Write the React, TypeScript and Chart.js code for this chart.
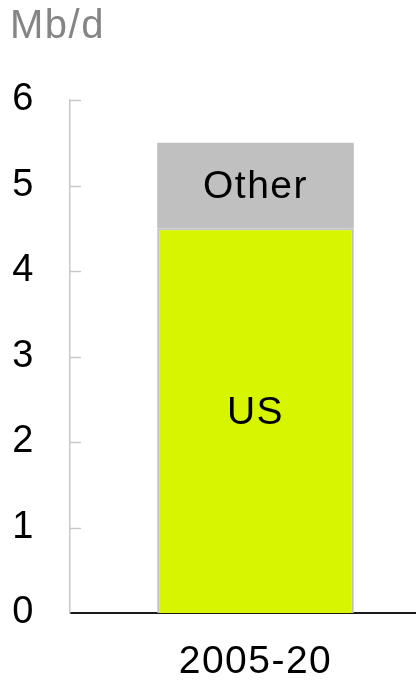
import React, { useEffect, useRef } from "react";
import { Chart, registerables } from "chart.js";

Chart.register(...registerables);

const categories = ["2005-20"];
const usValues = [4.5];
const otherValues = [1.0];
const seriesNames = ["US", "Other"];
const yTicks = [0, 1, 2, 3, 4, 5, 6];
const unitLabel = "Mb/d";

const FONT = "'Liberation Sans', Arial, Helvetica, sans-serif";

const spacing = {
  id: "spacing",
  beforeInit(chart: any) {
    try { chart.ctx.letterSpacing = "1.5px"; } catch (e) {}
  },
  beforeDraw(chart: any) {
    try { chart.ctx.letterSpacing = "1.5px"; } catch (e) {}
  },
};

const innerTicks = {
  id: "innerTicks",
  afterDraw(chart: any) {
    const y = chart.scales.y;
    const ctx = chart.ctx;
    ctx.save();
    ctx.strokeStyle = "#c8c8c8";
    ctx.lineWidth = 1.5;
    yTicks.forEach((v) => {
      if (v === 0) return;
      const py = Math.round(y.getPixelForValue(v)) + 0.5;
      ctx.beginPath();
      ctx.moveTo(y.right, py);
      ctx.lineTo(y.right + 11, py);
      ctx.stroke();
    });
    ctx.restore();
  },
};

const barLabels = {
  id: "barLabels",
  afterDatasetsDraw(chart: any) {
    const ctx = chart.ctx;
    ctx.save();
    ctx.fillStyle = "#000";
    ctx.font = `39px ${FONT}`;
    ctx.textAlign = "center";
    ctx.textBaseline = "middle";
    chart.data.datasets.forEach((ds: any, i: number) => {
      const meta = chart.getDatasetMeta(i);
      meta.data.forEach((bar: any) => {
        const { x, y, base } = bar.getProps(["x", "y", "base"], true);
        const cy = (y + base) / 2 + (i === 0 ? -7 : 2);
        ctx.fillText(ds.label, x, cy);
      });
    });
    ctx.restore();
  },
};

export default function App() {
  const ref = useRef<HTMLCanvasElement | null>(null);
  useEffect(() => {
    if (!ref.current) return;
    const chart = new Chart(ref.current, {
      type: "bar",
      data: {
        labels: categories,
        datasets: [
          {
            label: seriesNames[0],
            data: usValues,
            backgroundColor: "#d8f500",
            borderColor: "#c0c0c0",
            borderWidth: 2,
            borderSkipped: "bottom",
          },
          {
            label: seriesNames[1],
            data: otherValues,
            backgroundColor: "#c0c0c0",
            borderColor: "#c0c0c0",
            borderWidth: 0,
          },
        ],
      },
      options: {
        animation: false,
        responsive: false,
        maintainAspectRatio: false,
        layout: { padding: { left: 10, right: 0, top: 0, bottom: 0 } },
        datasets: { bar: { barPercentage: 0.53, categoryPercentage: 1 } },
        plugins: {
          legend: { display: false },
          tooltip: { enabled: false },
          title: {
            display: true,
            text: unitLabel,
            align: "start",
            color: "#858585",
            font: { family: FONT, size: 40, weight: "normal", lineHeight: 1.2 },
            padding: { top: 3, bottom: 49 },
          },
        },
        scales: {
          x: {
            stacked: true,
            afterFit(scale: any) {
              scale.height = 67;
            },
            grid: { display: false, drawOnChartArea: false, tickLength: 0 },
            border: { display: true, color: "#1a1a1a", width: 2 },
            ticks: {
              color: "#000",
              padding: 30,
              font: { family: FONT, size: 39, lineHeight: 1 },
            },
          },
          y: {
            stacked: true,
            min: 0,
            max: 6,
            afterFit(scale: any) {
              scale.width = 60;
            },
            afterBuildTicks(scale: any) {
              scale.ticks = yTicks.map((v) => ({ value: v }));
            },
            grid: { display: false, drawOnChartArea: false, tickLength: 0 },
            border: { display: true, color: "#c8c8c8", width: 1.5 },
            ticks: {
              color: "#000",
              padding: 35,
              font: { family: FONT, size: 38, lineHeight: 1 },
            },
          },
        },
      },
      plugins: [spacing, innerTicks, barLabels],
    });
    return () => chart.destroy();
  }, []);
  return (
    <div style={{ position: "fixed", left: 0, top: 0, width: 416, height: 680, overflow: "hidden", background: "#fff" }}>
      <canvas ref={ref} width={441} height={680} style={{ width: 441, height: 680, display: "block" }} />
    </div>
  );
}
